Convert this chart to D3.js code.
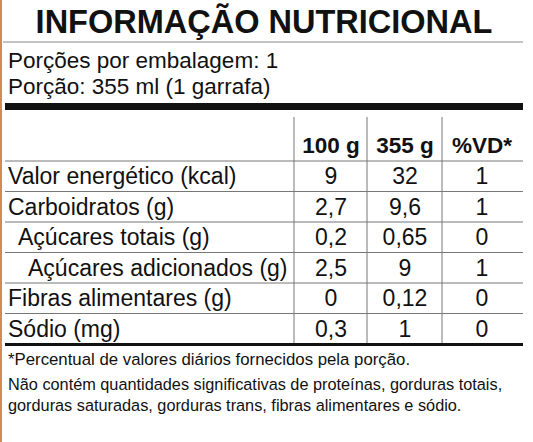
<!DOCTYPE html>
<html>
<head>
<script src="https://d3js.org/d3.v7.min.js"></script>
<style>body{margin:0;background:#fff}text{font-family:"Liberation Sans",Arial,sans-serif;fill:#111}</style>
</head>
<body>
<script>
var nutrients = ["Valor energético (kcal)", "Carboidratos (g)", "Açúcares totais (g)", "Açúcares adicionados (g)", "Fibras alimentares (g)", "Sódio (mg)"];
var indent = [0, 0, 1, 2, 0, 0];
var per100 = ["9", "2,7", "0,2", "2,5", "0", "0,3"];
var per355 = ["32", "9,6", "0,65", "9", "0,12", "1"];
var vd = ["1", "1", "0", "1", "0", "0"];
var columns = ["100 g", "355 g", "%VD*"];

var svg = d3.select("body").append("svg").attr("width", 533).attr("height", 442);

// thin orange edge on the left
svg.append("rect").attr("x", 0).attr("y", 0).attr("width", 2).attr("height", 442).attr("fill", "#d98a4a");

svg.append("text").attr("x", 264).attr("y", 33).attr("text-anchor", "middle")
	.attr("font-size", 32.5).attr("font-weight", "bold").text("INFORMAÇÃO NUTRICIONAL");
svg.append("line").attr("x1", 3).attr("x2", 523).attr("y1", 42).attr("y2", 42).attr("stroke", "#888").attr("stroke-width", 1.2);
svg.append("text").attr("x", 8).attr("y", 68).attr("font-size", 22.5).text("Porções por embalagem: 1");
svg.append("text").attr("x", 8).attr("y", 94).attr("font-size", 22.5).text("Porção: 355 ml (1 garrafa)");
svg.append("rect").attr("x", 5).attr("y", 103).attr("width", 518).attr("height", 7).attr("fill", "#111");

var y = d3.scaleBand().domain(nutrients).range([161, 344]);
var colX = {"100 g": 294, "355 g": 367, "%VD*": 442};
var colC = {"100 g": 331, "355 g": 405, "%VD*": 482};

// vertical separators
svg.selectAll(".vline").data(columns).enter().append("line")
	.attr("x1", function(d) { return colX[d]; }).attr("x2", function(d) { return colX[d]; })
	.attr("y1", 117).attr("y2", 344).attr("stroke", "#777").attr("stroke-width", 1);

svg.selectAll(".head").data(columns).enter().append("text")
	.attr("x", function(d) { return colC[d]; }).attr("y", 153)
	.attr("text-anchor", "middle").attr("font-size", 22.5).attr("font-weight", "bold").text(function(d) { return d; });

// horizontal row lines
svg.selectAll(".hline").data(nutrients).enter().append("line")
	.attr("x1", 5).attr("x2", 523)
	.attr("y1", function(d) { return y(d); }).attr("y2", function(d) { return y(d); })
	.attr("stroke", "#777").attr("stroke-width", 1);
svg.append("rect").attr("x", 5).attr("y", 343).attr("width", 518).attr("height", 3).attr("fill", "#111");

var rows = nutrients.map(function(n, i) { return {name: n, ind: indent[i], v: [per100[i], per355[i], vd[i]]}; });
svg.selectAll(".name").data(rows).enter().append("text")
	.attr("x", function(d) { return 8 + d.ind * 10; })
	.attr("y", function(d) { return y(d.name) + 23; })
	.attr("font-size", 23).text(function(d) { return d.name; });
columns.forEach(function(c, j) {
	svg.selectAll(".val" + j).data(rows).enter().append("text")
		.attr("x", colC[c]).attr("y", function(d) { return y(d.name) + 23; })
		.attr("text-anchor", "middle").attr("font-size", 23).text(function(d) { return d.v[j]; });
});

svg.append("text").attr("x", 8).attr("y", 365).attr("font-size", 16.8).text("*Percentual de valores diários fornecidos pela porção.");
svg.append("text").attr("x", 8).attr("y", 390).attr("font-size", 16.3).text("Não contém quantidades significativas de proteínas, gorduras totais,");
svg.append("text").attr("x", 8).attr("y", 411).attr("font-size", 16.3).text("gorduras saturadas, gorduras trans, fibras alimentares e sódio.");
</script>
</body>
</html>
